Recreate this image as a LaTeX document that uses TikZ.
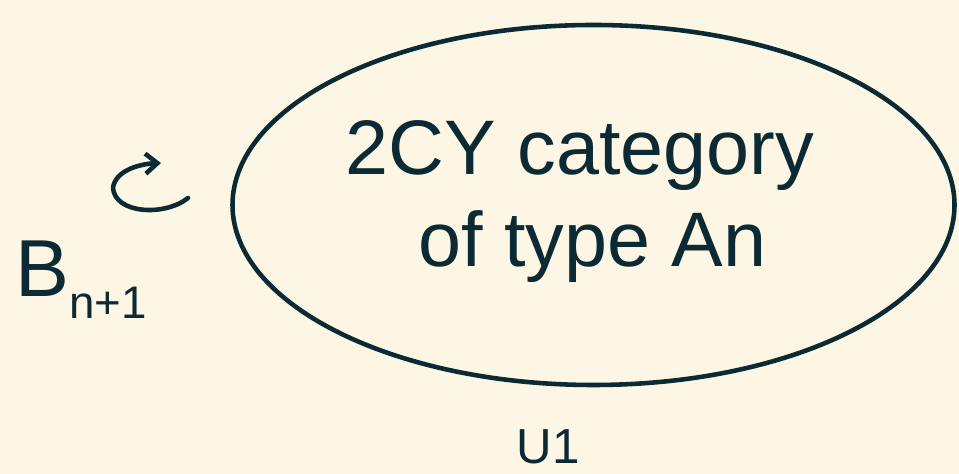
\documentclass[tikz,border=0pt]{standalone}
\usepackage{fontspec}
\setmainfont{Liberation Sans}
\usetikzlibrary{arrows.meta}
\definecolor{paper}{RGB}{253,246,228}
\definecolor{ink}{RGB}{12,42,52}
\tikzset{
  stroke/.style={draw=ink,line width=2.6pt,line cap=round,line join=round},
  curl/.style={stroke,-{Straight Barb[length=2.4mm,width=4mm]}},
  scrawl/.style={text=ink,font=\fontsize{#1}{#1}\selectfont,inner sep=0pt},
  scrawl/.default=40,
}
\begin{document}
\begin{tikzpicture}
  \fill[paper] (0,0) rectangle (19.18,9.48);
  \useasboundingbox (0,0) rectangle (19.18,9.48);
  % the big loop
  \draw[stroke] (11.87,5.38) ellipse [x radius=7.22cm,y radius=3.6cm];
  \node[scrawl=44,align=center] (cat) at (11.6,5.45)
    {2CY category\\[0.3cm]\hspace*{0.5cm}of type An};
  % acting group
  \node[scrawl=46,anchor=base west] (bn) at (0.3,3.55)
    {B\raisebox{-0.45cm}{\fontsize{26}{26}\selectfont n+1}};
  \coordinate (c1) at (3.76,5.52);
  \coordinate (c2) at (3.22,6.22);
  \draw[curl] (c1) .. controls (3.3,5.15) and (2.3,5.2) .. (2.26,5.72)
    .. controls (2.3,6.05) and (2.75,6.2) .. (c2);
  % bottom label
  \node[scrawl=28,anchor=base] (u1) at (10.96,0.2) {U1};
\end{tikzpicture}
\end{document}
